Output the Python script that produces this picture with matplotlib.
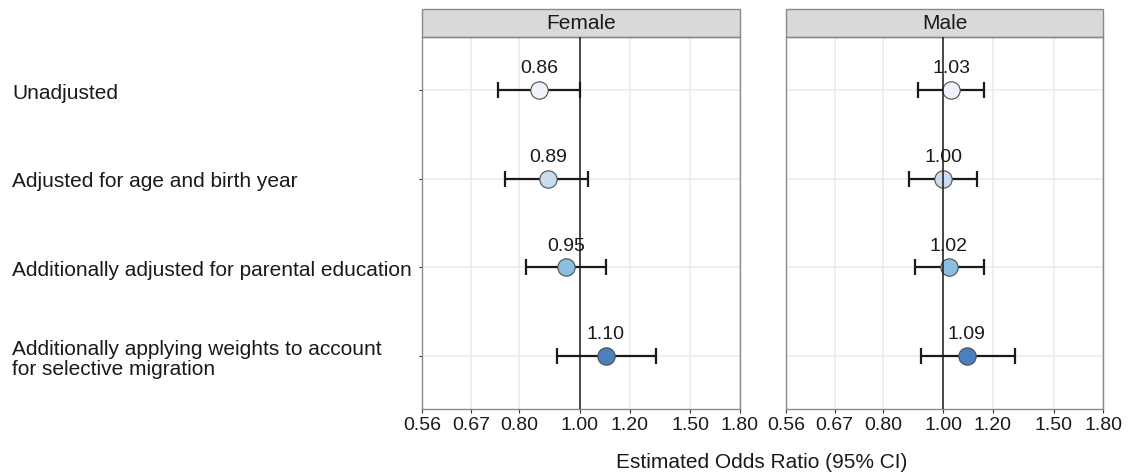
import numpy as np
import matplotlib.pyplot as plt
from matplotlib.patches import Rectangle
from matplotlib.ticker import NullLocator

plt.rcParams['font.family'] = ['Liberation Sans', 'DejaVu Sans']
plt.rcParams['font.size'] = 14

models = [
    "Unadjusted",
    "Adjusted for age and birth year",
    "Additionally adjusted for parental education",
    "Additionally applying weights to account\nfor selective migration",
]
panels = ["Female", "Male"]

female_or = [0.86, 0.89, 0.95, 1.10]
female_lo = [0.74, 0.76, 0.82, 0.92]
female_hi = [1.00, 1.03, 1.10, 1.32]

male_or = [1.03, 1.00, 1.02, 1.09]
male_lo = [0.91, 0.88, 0.90, 0.92]
male_hi = [1.16, 1.13, 1.16, 1.30]

xticks = [0.56, 0.67, 0.80, 1.00, 1.20, 1.50, 1.80]
xtick_labels = ["0.56", "0.67", "0.80", "1.00", "1.20", "1.50", "1.80"]

fills = ['#EEF3FB', '#C9DDEF', '#8BBFE2', '#4C7FC0']

fig = plt.figure(figsize=(11.29, 4.77), dpi=100)
W, H = 1129, 477
top_px, bot_px = 38, 410
axes = [
    fig.add_axes([422 / W, 1 - bot_px / H, 318 / W, (bot_px - top_px) / H]),
    fig.add_axes([786 / W, 1 - bot_px / H, 317 / W, (bot_px - top_px) / H]),
]

data = [(female_or, female_lo, female_hi), (male_or, male_lo, male_hi)]
ypos = np.arange(len(models))[::-1] + 1  # top row = 4

for i, (ax, name, (est, lo, hi)) in enumerate(zip(axes, panels, data)):
    ax.set_xscale('log')
    ax.set_xlim(0.56, 1.80)
    ax.set_ylim(0.4, 4.6)
    ax.set_xticks(xticks)
    ax.set_xticklabels(xtick_labels)
    ax.xaxis.set_minor_locator(NullLocator())
    ax.set_yticks(ypos)

    ax.grid(True, color='#EBEBEB', linewidth=1.1, zorder=0)
    ax.set_axisbelow(True)

    for j in range(len(models)):
        ax.errorbar(est[j], ypos[j], xerr=[[est[j] - lo[j]], [hi[j] - est[j]]],
                    fmt='none', ecolor='#1a1a1a', elinewidth=1.6, capsize=6,
                    capthick=1.6, zorder=3)
        ax.plot(est[j], ypos[j], 'o', markersize=12.5, markerfacecolor=fills[j],
                markeredgecolor='#4d4d4d', markeredgewidth=0.8, zorder=4)
        ax.annotate(f"{est[j]:.2f}", (est[j], ypos[j]), xytext=(0, 16),
                    textcoords='offset points', ha='center', va='center',
                    fontsize=14, color='#1a1a1a', zorder=5)

    ax.axvline(1.0, color='#1a1a1a', linewidth=1.1, zorder=6)

    for s in ax.spines.values():
        s.set_color('#8a8a8a')
        s.set_linewidth(1.0)

    ax.tick_params(axis='x', length=3, width=0.8, color='#333333',
                   labelsize=14, labelcolor='#1a1a1a', pad=2)

    strip_h = 28 / (bot_px - top_px)
    ax.add_patch(Rectangle((0, 1), 1, strip_h, transform=ax.transAxes,
                           clip_on=False, facecolor='#D9D9D9',
                           edgecolor='#8a8a8a', linewidth=1.0))
    ax.text(0.5, 1 + strip_h / 2, name, transform=ax.transAxes,
            ha='center', va='center', fontsize=15, color='#1a1a1a')

    if i == 0:
        ax.set_yticklabels(models)
        ax.tick_params(axis='y', length=2.5, width=0.8, color='#333333',
                       labelsize=15, labelcolor='#1a1a1a',
                       pad=(422 - 12) * 0.72 - 2.5)
        for lab in ax.get_yticklabels():
            lab.set_ha('left')
            lab.set_multialignment('left')
            lab.set_linespacing(1.05)
    else:
        ax.tick_params(axis='y', length=0, labelleft=False)

fig.text(762 / W, 1 - 463 / H, "Estimated Odds Ratio (95% CI)",
         ha='center', va='center', fontsize=15, color='#1a1a1a')

fig.savefig("out.png", dpi=100)
